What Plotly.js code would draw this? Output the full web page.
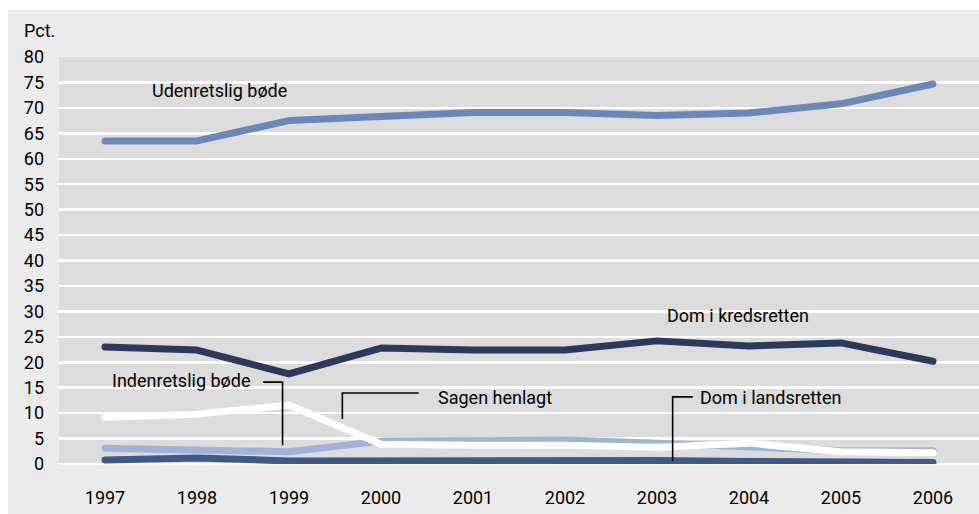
<!DOCTYPE html>
<html>
<head>
<meta charset="utf-8">
<script src="https://cdn.plot.ly/plotly-3.0.1.min.js"></script>
<style>
html, body { margin: 0; padding: 0; background: #ffffff; }
#chart { position: absolute; left: 8px; top: 10px; width: 971px; height: 504px; }
.js-line { stroke-linecap: round !important; stroke-linejoin: round !important; }
</style>
</head>
<body>
<div id="chart"></div>
<script>
const years = [1997, 1998, 1999, 2000, 2001, 2002, 2003, 2004, 2005, 2006];
const udenretsligBode = [63.5, 63.5, 67.5, 68.4, 69.1, 69.1, 68.5, 69.0, 70.8, 74.7];
const domKredsretten = [23.0, 22.4, 17.7, 22.8, 22.4, 22.4, 24.2, 23.2, 23.8, 20.2];
const indenretsligBode = [3.1, 2.9, 2.4, 4.5, 4.7, 4.7, 4.1, 3.3, 2.6, 2.6];
const sagenHenlagt = [9.2, 9.8, 11.6, 3.9, 3.7, 3.7, 3.3, 4.1, 2.4, 2.2];
const domLandsretten = [0.8, 1.2, 0.6, 0.7, 0.6, 0.6, 0.7, 0.5, 0.5, 0.3];
const yTicks = [0, 5, 10, 15, 20, 25, 30, 35, 40, 45, 50, 55, 60, 65, 70, 75, 80];

const FONT = "Roboto, 'Noto Sans', sans-serif";

function line(y, color, name) {
  return { x: years, y: y, type: 'scatter', mode: 'lines', name: name,
           line: { color: color, width: 7 }, hoverinfo: 'skip' };
}

const data = [
  line(udenretsligBode, '#6a87b9', 'Udenretslig bøde'),
  line(domKredsretten, '#2b3a5c', 'Dom i kredsretten'),
  line(indenretsligBode, '#9fb3da', 'Indenretslig bøde'),
  line(sagenHenlagt, '#ffffff', 'Sagen henlagt'),
  line(domLandsretten, '#3e5a8a', 'Dom i landsretten')
];

const lbl = { family: FONT, size: 18, color: '#000000' };
const leader = { color: '#000000', width: 1.6 };
const tickFont = { family: FONT, size: 18, color: '#000000' };

const layout = {
  width: 971, height: 504,
  margin: { l: 51, r: 0, t: 47, b: 50 },
  paper_bgcolor: '#ebebeb',
  plot_bgcolor: '#dcdcdc',
  showlegend: false,
  font: { family: FONT, size: 18, color: '#000000' },
  xaxis: {
    range: [1996.5, 2006.5], tickvals: years, ticktext: years.map(String),
    showgrid: false, zeroline: false, showline: false, ticks: '',
    ticklabelstandoff: 21, tickfont: tickFont
  },
  yaxis: {
    range: [0, 80], tickvals: yTicks, showgrid: true, gridcolor: '#ffffff', gridwidth: 2.5,
    zeroline: true, zerolinecolor: '#ffffff', zerolinewidth: 2.5, showline: false, ticks: '',
    ticklabelstandoff: 14, tickfont: tickFont
  },
  annotations: [
    { text: 'Pct.', xref: 'paper', yref: 'paper', x: -0.04, y: 1.066, xanchor: 'left', yanchor: 'middle',
      showarrow: false, font: tickFont },
    { text: 'Udenretslig bøde', x: 1998.24, y: 73.5, xanchor: 'center', yanchor: 'middle', showarrow: false, font: lbl },
    { text: 'Dom i kredsretten', x: 2003.88, y: 29.1, xanchor: 'center', yanchor: 'middle', showarrow: false, font: lbl },
    { text: 'Indenretslig bøde', x: 1998.6, y: 16.5, xanchor: 'right', yanchor: 'middle', showarrow: false, font: lbl },
    { text: 'Sagen henlagt', x: 2000.6, y: 13.0, xanchor: 'left', yanchor: 'middle', showarrow: false, font: lbl },
    { text: 'Dom i landsretten', x: 2003.45, y: 13.0, xanchor: 'left', yanchor: 'middle', showarrow: false, font: lbl }
  ],
  shapes: [
    { type: 'path', xref: 'x', yref: 'y', path: 'M1998.72,16.1 L1998.93,16.1 L1998.93,3.7', line: leader },
    { type: 'path', xref: 'x', yref: 'y', path: 'M1999.58,8.85 L1999.58,13.96 L2000.41,13.96', line: leader },
    { type: 'path', xref: 'x', yref: 'y', path: 'M2003.17,0.6 L2003.17,13.2 L2003.39,13.2', line: leader }
  ]
};

Plotly.newPlot('chart', data, layout, { displayModeBar: false, staticPlot: true });
</script>
</body>
</html>
